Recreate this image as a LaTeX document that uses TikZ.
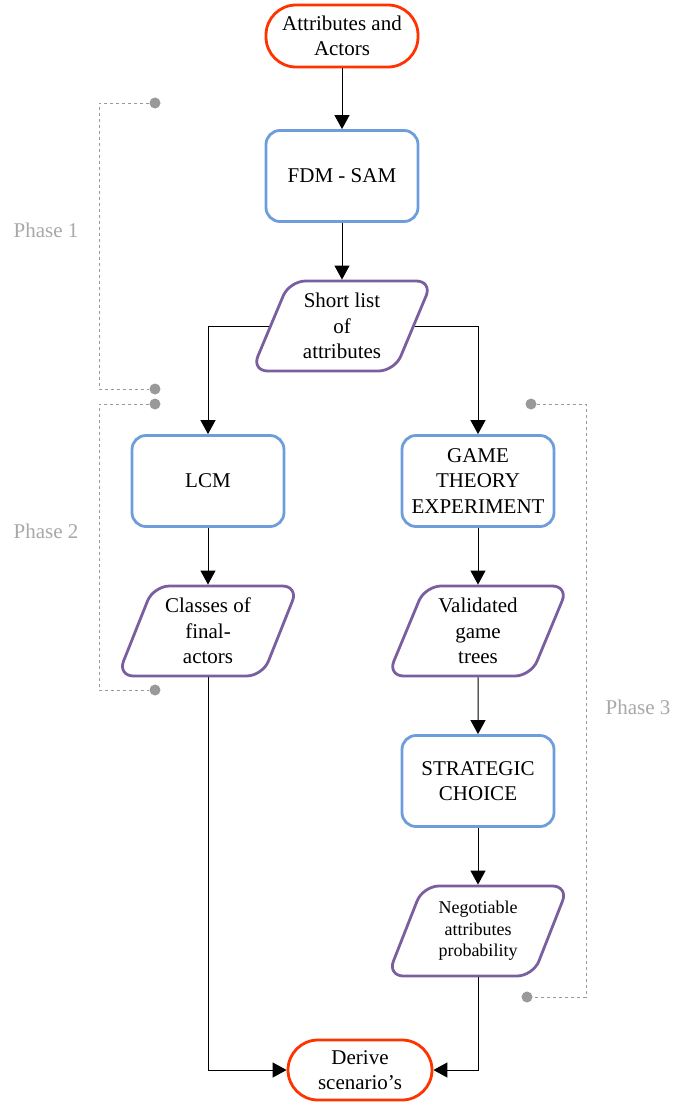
\documentclass[tikz,border=0pt]{standalone}
\usepackage{fontspec}
\setmainfont{Liberation Serif}
\usetikzlibrary{shapes.geometric, positioning, arrows.meta}
\definecolor{termred}{HTML}{FF3300}
\definecolor{procblue}{HTML}{6E9DDB}
\definecolor{datapurple}{HTML}{7A5FA0}
\definecolor{phasegray}{HTML}{999999}
\tikzset{
    >={Triangle[length=14pt,width=15pt]}, % big filled arrow heads
    flow/.style={->, line width=1pt}, % the black connectors
    phaseline/.style={dashed, draw=phasegray, line width=1pt}, % phase brackets
}

\begin{document}
\begin{tikzpicture}[
                        x=1pt, y=-1pt,
                        node distance=150pt,
                        terminal/.style={draw=termred, line width=2.8pt, rounded corners=30pt, minimum width=152pt, minimum height=62pt, align=center, font=\fontsize{21}{25.5}\selectfont},
                        process/.style={draw=procblue, line width=2.8pt, rounded corners=14pt, minimum width=152pt, minimum height=91pt, align=center, font=\fontsize{21}{25.5}\selectfont},
                        data/.style={trapezium, trapezium left angle=67, trapezium right angle=113, trapezium stretches=true, draw=datapurple, line width=2.8pt, rounded corners=16pt, minimum width=181pt, minimum height=90pt, inner sep=1pt, align=center, font=\fontsize{21}{25.5}\selectfont},
                        phasedot/.style={circle, fill=phasegray, inner sep=0pt, minimum size=11pt},
                        phaselabel/.style={text=phasegray!85, font=\fontsize{21}{25}\selectfont},
                    ]
    \useasboundingbox (0,0) rectangle (676,1106);
    % flow nodes
    \node[terminal] (attr) at (342,36) {Attributes and\\Actors};
    \node[process] (fdm) at (342,176) {FDM - SAM};
    \node[data, below of=fdm] (short) {Short list\\of\\attributes};
    \node[process] (lcm) at (208,481) {LCM};
    \node[process] (game) at (478,481) {GAME\\THEORY\\EXPERIMENT};
    \node[data, below of=lcm] (classes) {Classes of\\final-\\actors};
    \node[data, below of=game] (valid) {Validated\\game\\trees};
    \node[process, below of=valid] (strat) {STRATEGIC\\CHOICE};
    \node[data, below of=strat, font=\fontsize{18}{21.5}\selectfont] (neg) {Negotiable\\attributes\\probability};
    \node[terminal, minimum width=144pt, minimum height=60pt] (derive) at (360,1070) {Derive\\scenario's};
    \draw[flow]
    (attr) -- (fdm);
    \draw[flow] (fdm) -- (short);
    \draw[flow] (short) -| (lcm);
    \draw[flow] (short) -| (game);
    \draw[flow] (lcm) -- (classes);
    \draw[flow] (game) -- (valid);
    \draw[flow] (valid) -- (strat);
    \draw[flow] (strat) -- (neg);
    \draw[flow] (classes) |- (derive);
    \draw[flow] (neg) |- (derive);
    % phase brackets
    \node[phasedot] (p1a) at (155,103) {};
    \node[phasedot] (p1b) at (155,389) {};
    \coordinate (p1c) at (99,389);
    \node[phasedot] (p2a) at (155,404) {};
    \node[phasedot] (p2b) at (155,690) {};
    \coordinate (p2c) at (99,690);
    \node[phasedot] (p3a) at (531,404) {};
    \node[phasedot] (p3b) at (527,997) {};
    \coordinate (p3c) at (586,997);
    \draw[phaseline] (p1a) -| (p1c) -- (p1b);
    \draw[phaseline] (p2a) -| (p2c) -- (p2b);
    \draw[phaseline] (p3a) -| (p3c) -- (p3b);
    \node[phaselabel] (ph1) at (46,230) {Phase 1};
    \node[phaselabel] (ph2) at (46,531) {Phase 2};
    \node[phaselabel] (ph3) at (638,707) {Phase 3};
\end{tikzpicture}
\end{document}
